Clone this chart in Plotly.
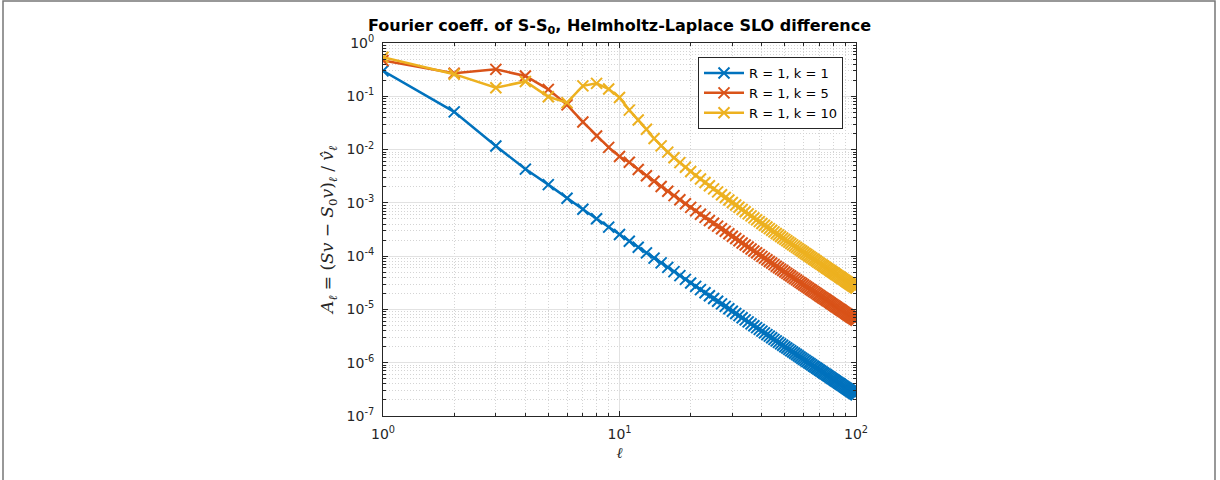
import plotly.graph_objects as go

ell = list(range(1, 101))

series_names = ["R = 1, k = 1", "R = 1, k = 5", "R = 1, k = 10"]
series_colors = ["#0072BD", "#D95319", "#EDB120"]

coef_k1 = [
    0.30, 0.051, 0.0117, 0.0043, 0.0022, 1.218e-3, 7.57e-4, 5.02e-4, 3.51e-4, 2.545e-4,
    1.906e-4, 1.465e-4, 1.15e-4, 9.19e-5, 7.47e-5, 6.15e-5, 5.12e-5, 4.31e-5, 3.66e-5, 3.14e-5,
    2.706e-5, 2.353e-5, 2.059e-5, 1.812e-5, 1.603e-5, 1.425e-5, 1.272e-5, 1.140e-5, 1.026e-5, 9.27e-6,
    8.40e-6, 7.64e-6, 6.96e-6, 6.37e-6, 5.84e-6, 5.36e-6, 4.94e-6, 4.56e-6, 4.22e-6, 3.91e-6,
    3.63e-6, 3.37e-6, 3.15e-6, 2.94e-6, 2.74e-6, 2.57e-6, 2.41e-6, 2.26e-6, 2.13e-6, 2.00e-6,
    1.885e-6, 1.778e-6, 1.679e-6, 1.588e-6, 1.503e-6, 1.424e-6, 1.350e-6, 1.281e-6, 1.217e-6, 1.157e-6,
    1.101e-6, 1.049e-6, 1.000e-6, 9.54e-7, 9.10e-7, 8.70e-7, 8.31e-7, 7.95e-7, 7.61e-7, 7.29e-7,
    6.98e-7, 6.70e-7, 6.43e-7, 6.17e-7, 5.93e-7, 5.70e-7, 5.48e-7, 5.27e-7, 5.07e-7, 4.88e-7,
    4.70e-7, 4.53e-7, 4.37e-7, 4.22e-7, 4.07e-7, 3.93e-7, 3.80e-7, 3.67e-7, 3.55e-7, 3.43e-7,
    3.32e-7, 3.21e-7, 3.11e-7, 3.01e-7, 2.92e-7, 2.83e-7, 2.74e-7, 2.66e-7, 2.58e-7, 2.50e-7,
]

coef_k5 = [
    0.47, 0.27, 0.32, 0.24, 0.135, 0.069, 0.033, 0.018, 0.011, 0.0074,
    0.0058, 0.00422, 0.003236, 0.002541, 0.002035, 0.001656, 0.001367, 0.001143, 0.000965, 0.000822,
    0.000707, 0.000612, 0.000534, 0.000468, 0.000413, 0.0003664, 0.0003266, 0.0002922, 0.0002625, 0.0002366,
    0.0002141, 0.0001944, 0.0001771, 0.0001618, 0.0001481, 0.000136, 0.0001252, 0.0001155, 0.0001067, 9.886e-5,
    9.175e-5, 8.53e-5, 7.94e-5, 7.41e-5, 6.93e-5, 6.48e-5, 6.07e-5, 5.70e-5, 5.36e-5, 5.04e-5,
    4.75e-5, 4.48e-5, 4.23e-5, 4.00e-5, 3.78e-5, 3.58e-5, 3.40e-5, 3.22e-5, 3.06e-5, 2.91e-5,
    2.77e-5, 2.64e-5, 2.51e-5, 2.40e-5, 2.29e-5, 2.18e-5, 2.09e-5, 2.00e-5, 1.91e-5, 1.83e-5,
    1.75e-5, 1.68e-5, 1.61e-5, 1.55e-5, 1.49e-5, 1.43e-5, 1.375e-5, 1.322e-5, 1.272e-5, 1.225e-5,
    1.18e-5, 1.137e-5, 1.096e-5, 1.058e-5, 1.021e-5, 9.85e-6, 9.52e-6, 9.19e-6, 8.89e-6, 8.59e-6,
    8.31e-6, 8.05e-6, 7.79e-6, 7.55e-6, 7.31e-6, 7.08e-6, 6.86e-6, 6.65e-6, 6.45e-6, 6.27e-6,
]

coef_k10 = [
    0.54, 0.26, 0.145, 0.19, 0.098, 0.076, 0.157, 0.175, 0.137, 0.095,
    0.055, 0.036, 0.024, 0.01614, 0.01172, 0.00894, 0.007048, 0.005684, 0.004667, 0.003888,
    0.003283, 0.0028, 0.002408, 0.002091, 0.001827, 0.001606, 0.001421, 0.001263, 0.001128, 0.0010125,
    0.000912, 0.000825, 0.0007485, 0.0006813, 0.000622, 0.0005695, 0.0005228, 0.0004811, 0.0004438, 0.0004103,
    0.00038, 0.0003528, 0.000328, 0.0003056, 0.0002851, 0.0002665, 0.0002495, 0.0002338, 0.0002195, 0.0002063,
    0.0001942, 0.000183, 0.0001726, 0.000163, 0.0001541, 0.0001459, 0.0001382, 0.0001311, 0.0001245, 0.0001182,
    0.0001124, 0.000107, 0.0001019, 9.717e-5, 9.27e-5, 8.851e-5, 8.455e-5, 8.084e-5, 7.734e-5, 7.404e-5,
    7.092e-5, 6.798e-5, 6.52e-5, 6.257e-5, 6.007e-5, 5.771e-5, 5.547e-5, 5.335e-5, 5.133e-5, 4.942e-5,
    4.76e-5, 4.586e-5, 4.421e-5, 4.264e-5, 4.114e-5, 3.971e-5, 3.835e-5, 3.705e-5, 3.581e-5, 3.462e-5,
    3.348e-5, 3.24e-5, 3.136e-5, 3.036e-5, 2.941e-5, 2.849e-5, 2.762e-5, 2.677e-5, 2.597e-5, 2.519e-5,
]

x_tick_vals = [1, 10, 100]
x_tick_text = ["10<sup>0</sup>", "10<sup>1</sup>", "10<sup>2</sup>"]
y_tick_vals = [1e-7, 1e-6, 1e-5, 1e-4, 1e-3, 1e-2, 1e-1, 1]
y_tick_text = ["10<sup>-7</sup>", "10<sup>-6</sup>", "10<sup>-5</sup>", "10<sup>-4</sup>",
               "10<sup>-3</sup>", "10<sup>-2</sup>", "10<sup>-1</sup>", "10<sup>0</sup>"]

x_minor = [m * 10 ** e for e in range(0, 2) for m in range(2, 10)]
y_minor = [m * 10.0 ** e for e in range(-7, 0) for m in range(2, 10)]

fig = go.Figure()
for name, color, vals in zip(series_names, series_colors, [coef_k1, coef_k5, coef_k10]):
    fig.add_trace(go.Scatter(
        x=ell, y=vals, name=name, mode="lines+markers",
        line=dict(color=color, width=2.5),
        marker=dict(symbol="x-thin", size=11, line=dict(width=2, color=color), color=color),
    ))

axis_color = "#262626"
common = dict(
    type="log", showline=True, linecolor=axis_color, linewidth=1, mirror="allticks",
    ticks="inside", ticklen=5, tickcolor=axis_color, tickwidth=1,
    showgrid=True, gridcolor="#e2e2e2", gridwidth=1, zeroline=False,
    tickfont=dict(family="DejaVu Sans", size=14, color=axis_color),
)
minor_common = dict(tickmode="array", ticks="inside", ticklen=3, tickcolor=axis_color,
                    showgrid=True, gridcolor="#d4d4d4", griddash="1px,2px", gridwidth=1)

fig.update_xaxes(
    range=[0, 2], tickmode="array", tickvals=x_tick_vals, ticktext=x_tick_text,
    minor=dict(tickvals=x_minor, **minor_common), ticklabelstandoff=5,
    title=dict(text="<i>ℓ</i>", font=dict(family="DejaVu Serif", size=15, color=axis_color), standoff=6),
    **common,
)
fig.update_yaxes(
    range=[-7, 0], tickmode="array", tickvals=y_tick_vals, ticktext=y_tick_text,
    minor=dict(tickvals=y_minor, **minor_common), ticklabelstandoff=5,
    title=dict(text="<i>A</i><sub><i>ℓ</i></sub> = (<i>Sv</i> − <i>S</i><sub>0</sub><i>v</i>)<sub><i>ℓ</i></sub> / <i>v̂</i><sub><i>ℓ</i></sub>",
               font=dict(family="DejaVu Serif", size=17, color=axis_color), standoff=8),
    **common,
)

# figure frame (open at the bottom, as in the reference)
L, R, T, B = 383, 364, 43, 64
pw, ph = 1220 - L - R, 480 - T - B
fig.add_shape(type="rect", xref="paper", yref="paper",
              x0=(3 - L) / pw, x1=(1215 - L) / pw, y0=(480 - B - 490) / ph, y1=(480 - B - 1) / ph,
              line=dict(color="#777777", width=1.5), fillcolor="rgba(0,0,0,0)", layer="below")

fig.update_layout(
    width=1220, height=480,
    margin=dict(l=L, r=R, t=T, b=B),
    paper_bgcolor="white", plot_bgcolor="white",
    title=dict(text="<b>Fourier coeff. of S-S<sub>0</sub>, Helmholtz-Laplace SLO difference</b>",
               x=0.5, xref="paper", xanchor="center", y=1 - 25 / 480, yanchor="middle",
               font=dict(family="DejaVu Sans", size=16, color="black")),
    legend=dict(x=(843 - L) / pw, xanchor="right", y=(480 - B - 57) / ph, yanchor="top",
                bgcolor="white", bordercolor=axis_color, borderwidth=1,
                font=dict(family="DejaVu Sans", size=13, color="black"),
                itemwidth=40, tracegroupgap=0),
    showlegend=True,
)

fig.write_html("out.html", post_script="document.body.style.margin='0px';",
               config={"displayModeBar": False})
